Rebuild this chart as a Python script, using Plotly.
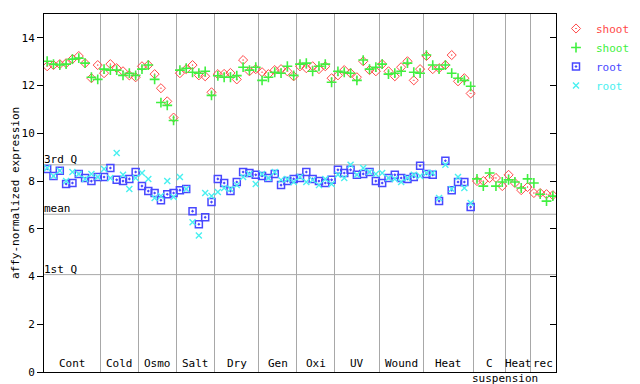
import plotly.graph_objects as go

# ---- data ----
group_names = ["Cont", "Cold", "Osmo", "Salt", "Dry", "Gen", "Oxi", "UV",
               "Wound", "Heat", "C", "Heat", "rec"]
group_sizes = [9, 6, 6, 6, 7, 6, 6, 7, 7, 8, 5, 4, 4]

shoot_a = [12.81, 12.86, 12.90, 12.94, 13.11, 13.24, 12.94, 12.31, 12.86,
           12.52, 12.90, 12.73, 12.60, 12.43, 12.35,
           12.81, 12.86, 12.48, 11.89, 11.34, 10.66,
           12.52, 12.69, 12.86, 12.43, 12.39, 11.72,
           12.48, 12.49, 12.53, 12.26, 13.07, 12.60, 12.69,
           12.56, 12.48, 12.65, 12.69, 12.60, 12.39,
           12.81, 12.73, 12.81, 12.69, 12.81, 12.31,
           12.43, 12.65, 12.52, 12.35, 13.02, 12.65, 12.60,
           12.90, 12.60, 12.39, 12.77, 13.02, 12.22, 12.69,
           13.24, 12.69, 12.73, 12.86, 13.28, 12.18, 12.31, 11.67,
           8.00, 8.00, 8.13, 8.13, 7.79,
           8.26, 7.92, 7.62, 7.75,
           7.50, 7.50, 7.45, 7.41]

shoot_b = [13.02, 12.90, 12.86, 12.90, 13.11, 13.15, 12.94, 12.35, 12.26,
           12.69, 12.65, 12.65, 12.43, 12.52, 12.43,
           12.69, 12.86, 12.26, 11.29, 11.17, 10.54,
           12.65, 12.73, 12.56, 12.52, 12.60, 11.59,
           12.41, 12.35, 12.35, 12.42, 12.77, 12.65, 12.77,
           12.22, 12.35, 12.56, 12.52, 12.81, 12.43,
           12.90, 12.94, 12.60, 12.81, 12.90, 12.14,
           12.60, 12.56, 12.52, 12.22, 13.07, 12.69, 12.77,
           12.90, 12.48, 12.52, 12.60, 12.94, 12.56, 12.52,
           13.28, 12.86, 12.69, 12.86, 12.52, 12.31, 12.22, 11.97,
           8.09, 7.79, 8.34, 7.79, 7.96,
           8.05, 7.96, 7.71, 8.09,
           7.92, 7.45, 7.16, 7.37]

root_a = [8.51, 8.21, 8.43, 7.88, 7.92, 8.30, 8.13, 8.00, 8.17,
          8.17, 8.55, 8.05, 8.00, 8.09, 8.38,
          7.79, 7.58, 7.50, 7.20, 7.45, 7.50,
          7.62, 7.67, 6.74, 6.19, 6.48, 7.12,
          8.09, 7.92, 7.58, 7.96, 8.38, 8.34, 8.26,
          8.21, 8.13, 8.30, 7.83, 8.00, 8.09,
          8.13, 8.38, 8.09, 8.00, 7.92, 8.05,
          8.47, 8.34, 8.47, 8.26, 8.30, 8.38, 8.00,
          7.92, 8.13, 8.26, 8.13, 8.09, 8.17, 8.64,
          8.30, 8.26, 7.16, 8.85, 7.62, 7.96, 7.96, 6.91]

root_b = [8.55, 8.21, 8.43, 8.00, 8.38, 8.30, 8.09, 8.30, 8.17,
          8.51, 8.13, 9.18, 8.26, 7.67, 8.13,
          8.34, 8.09, 7.29, 7.37, 8.00, 7.33,
          8.17, 7.67, 6.27, 5.72, 7.50, 7.37,
          7.54, 7.71, 7.67, 7.83, 8.17, 8.30, 7.88,
          8.30, 8.13, 8.38, 8.05, 8.09, 7.96,
          8.17, 7.96, 8.05, 7.83, 8.09, 7.88,
          8.26, 8.13, 8.68, 8.26, 8.55, 8.38, 8.30,
          8.34, 8.13, 8.09, 7.96, 8.13, 8.26, 8.21,
          8.34, 8.34, 7.29, 8.68, 7.67, 8.17, 7.71, 7.08]

stat_names = ["3rd Q", "mean", "1st Q"]
stat_values = [8.68, 6.61, 4.08]

y_ticks = [0, 2, 4, 6, 8, 10, 12, 14]

# ---- derived ----
boundaries = []
acc = 0
for s in group_sizes:
    acc += s
    boundaries.append(acc)
n_total = boundaries[-1]
centers = [b - s / 2 for b, s in zip(boundaries, group_sizes)]

FONT = "DejaVu Sans Mono"
RED, GREEN, BLUE, CYAN = "#ff4848", "#40f040", "#4848ff", "#48f0f0"

x_shoot = [i + 0.5 for i in range(len(shoot_a))]
x_root = [i + 0.5 for i in range(len(root_a))]

fig = go.Figure()
fig.add_trace(go.Scatter(
    x=x_shoot, y=shoot_a, mode="markers",
    name=f"<span style='color:{RED}'>shoot</span>",
    marker=dict(symbol="diamond-open-dot", size=7, color=RED, line=dict(width=1, color=RED))))
fig.add_trace(go.Scatter(
    x=x_shoot, y=shoot_b, mode="markers",
    name=f"<span style='color:{GREEN}'>shoot</span>",
    marker=dict(symbol="cross-thin", size=7, color=GREEN, line=dict(width=1.6, color=GREEN))))
fig.add_trace(go.Scatter(
    x=x_root, y=root_a, mode="markers",
    name=f"<span style='color:{BLUE}'>root</span>",
    marker=dict(symbol="square-open-dot", size=7, color=BLUE, line=dict(width=1.5, color=BLUE))))
fig.add_trace(go.Scatter(
    x=x_root, y=root_b, mode="markers",
    name=f"<span style='color:{CYAN}'>root</span>",
    marker=dict(symbol="x-thin", size=6, color=CYAN, line=dict(width=1.4, color=CYAN))))
# dummy trace for right-hand inward ticks
fig.add_trace(go.Scatter(x=[None], y=[None], yaxis="y2", showlegend=False, hoverinfo="skip"))

for name, val in zip(stat_names, stat_values):
    fig.add_shape(type="line", xref="paper", x0=0, x1=1, yref="y", y0=val, y1=val,
                  line=dict(color="#a8a8a8", width=1), layer="below")
    fig.add_annotation(text=name, xref="paper", x=0, xanchor="left",
                       yref="y", y=val, yanchor="bottom", showarrow=False,
                       font=dict(family=FONT, size=11, color="black"),
                       xshift=-2, yshift=-3)

for name, c in zip(group_names, centers):
    fig.add_annotation(text=name, xref="x", x=c, yref="y", y=0, yanchor="bottom",
                       showarrow=False, font=dict(family=FONT, size=11, color="black"),
                       borderpad=0, yshift=1)
fig.add_annotation(text="suspension", xref="x", x=boundaries[10], yref="paper", y=0,
                   yanchor="top", showarrow=False, borderpad=0,
                   font=dict(family=FONT, size=11, color="black"), yshift=1)

fig.add_annotation(text="affy-normalized expression", xref="paper", x=0, xshift=-29,
                   xanchor="center", yanchor="middle",
                   yref="paper", y=0.5, textangle=-90, showarrow=False,
                   font=dict(family=FONT, size=11, color="black"))

# page body has an 8px margin: size and margins compensate for it
fig.update_layout(
    width=632, height=376,
    margin=dict(l=36, r=80, t=5, b=7),
    plot_bgcolor="white", paper_bgcolor="white",
    font=dict(family=FONT, size=11, color="black"),
    showlegend=True,
    legend=dict(x=1.0, xanchor="left", y=1.0, yanchor="top",
                font=dict(family=FONT, size=11), bgcolor="rgba(0,0,0,0)",
                itemwidth=30, tracegroupgap=0),
    xaxis=dict(range=[0, n_total], tickvals=boundaries[:-1], showticklabels=False,
               ticks="", showgrid=True, gridcolor="#a8a8a8", gridwidth=1,
               showline=True, linecolor="black", linewidth=1, mirror=True,
               zeroline=False),
    yaxis=dict(range=[0, 15], tickvals=y_ticks, ticks="outside", ticklen=6,
               tickcolor="black", showgrid=False, zeroline=False,
               showline=True, linecolor="black", linewidth=1, mirror=True,
               tickfont=dict(family=FONT, size=11)),
    yaxis2=dict(range=[0, 15], tickvals=y_ticks, overlaying="y", side="right",
                ticks="inside", ticklen=6, tickcolor="black", showticklabels=False,
                showgrid=False, zeroline=False, showline=False),
)

fig.write_html("out.html")
